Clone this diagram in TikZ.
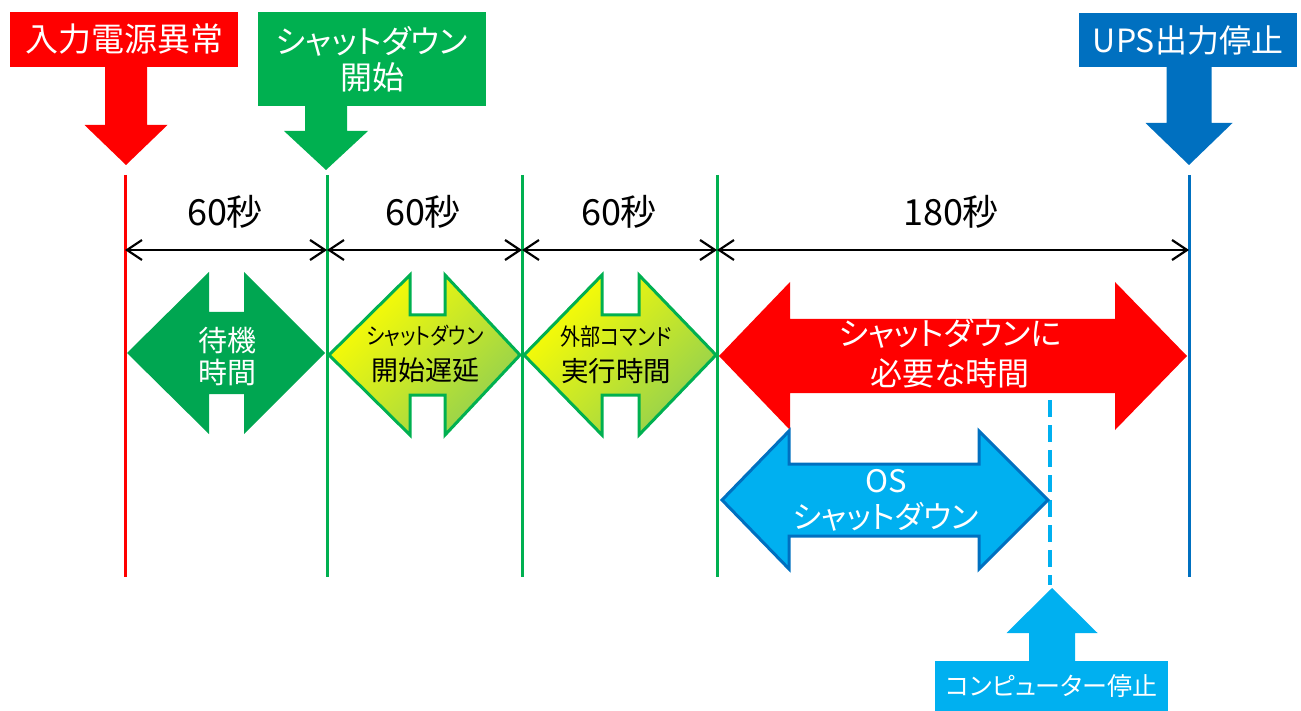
\documentclass[tikz,border=0pt]{standalone}
\usepackage{fontspec}
\setmainfont{Noto Sans CJK JP}[RawFeature=+palt]
\usepackage{graphicx}
\usetikzlibrary{arrows.meta, positioning, calc}
\definecolor{cRed}{RGB}{255,0,0}
\definecolor{cGreen}{RGB}{0,176,80}
\definecolor{cWait}{RGB}{0,166,81}
\definecolor{cBlue}{RGB}{0,112,192}
\definecolor{cSky}{RGB}{0,176,240}
\definecolor{cYellow}{RGB}{255,255,0}
\definecolor{cLime}{RGB}{146,208,80}
\tikzset{
	evbox/.style ={rectangle, inner sep=0pt, text=white, align=center, font=\fontsize{32}{36}\selectfont},
	tline/.style ={line width=3pt},
	dim/.style   ={{Straight Barb[length=15pt,width=20pt]}-{Straight Barb[length=15pt,width=20pt]}, line width=2.2pt},
	secs/.style  ={inner sep=0pt, font=\fontsize{36}{40}\selectfont},
	inlbl/.style ={inner sep=0pt, align=center},
	yelarrow/.style={draw=cGreen, line width=3pt, line join=miter, top color=cYellow, bottom color=cLime, shading angle=45},
}
% event arrow: colour, x centre, y top, y head base, y tip, half shaft, half head
\newcommand{\evarrow}[7]{\fill[#1] (#2-#6,#3) -- (#2-#6,#4) -- (#2-#7,#4) -- (#2,#5) -- (#2+#7,#4) -- (#2+#6,#4) -- (#2+#6,#3) -- cycle;}
% double arrow: style, x tip L, x base L, x base R, x tip R, y centre, half head, half shaft
\newcommand{\dblarrow}[8][]{\path[#1] (#2,#6) -- (#3,#6-#7) -- (#3,#6-#8) -- (#4,#6-#8) -- (#4,#6-#7) -- (#5,#6) -- (#4,#6+#7) -- (#4,#6+#8) -- (#3,#6+#8) -- (#3,#6+#7) -- cycle;}

\begin{document}
\begin{tikzpicture}[x=1pt, y=-1pt]
	\useasboundingbox (0,0) rectangle (1301,711);
	% events on top
	\node[evbox, fill=cRed, minimum width=228pt, minimum height=55pt, font=\fontsize{33}{36}\selectfont] (inp) at (124,39.5) {入力電源異常};
	\node[evbox, fill=cGreen, minimum width=228pt, minimum height=94pt] (sds) at (372,59) {シャットダウン\\開始};
	\node[evbox, fill=cBlue, minimum width=218pt, minimum height=54pt] (ups) at (1188,40) {UPS出力停止};
	\evarrow{cRed}{126}{66}{125}{165}{21}{41.5}
	\evarrow{cGreen}{326}{105}{131}{170}{21}{42}
	\evarrow{cBlue}{1189}{66}{123}{165}{22.5}{43.5}
	% time lines
	\foreach \n/\x/\c in {0/125/cRed, 1/327/cGreen, 2/522/cGreen, 3/717/cGreen, 4/1189/cBlue} {
		\coordinate (top\n) at (\x,175);
		\coordinate (bot\n) at (\x,577);
		\coordinate (d\n) at (\x,250);
		\draw[tline, \c] (top\n) -- (bot\n);
	}
	\draw[dim] (d0) -- (d1);
	\draw[dim] (d1) -- (d2);
	\draw[dim] (d2) -- (d3);
	\draw[dim] (d3) -- (d4);
	\node[secs] (s1) at (225,212) {60秒};
	\node[secs] (s2) at (423,212) {60秒};
	\node[secs] (s3) at (619,212) {60秒};
	\node[secs] (s4) at (951,212) {180秒};
	% phases
	\dblarrow[fill=cWait]{127}{209}{244}{325}{353}{81}{41}
	\dblarrow[yelarrow]{329}{410}{445}{520}{355}{80}{40}
	\dblarrow[yelarrow]{524}{602}{639}{716}{355}{80}{40}
	\dblarrow[fill=cRed]{719}{790}{1115}{1187}{356}{74}{37}
	\draw[cSky, line width=3.5pt, dash pattern=on 17pt off 8pt] (1050,400) -- (1050,585);
	\dblarrow[fill=cSky, draw=cBlue, line width=3pt]{722}{789}{979}{1048}{500}{69}{36}
	\node[inlbl, text=white, font=\fontsize{29}{32}\selectfont] (wait) at (227,356) {待機\\時間};
	\node[inlbl, font=\fontsize{27}{36}\selectfont] (delay) at (425,354) {\scalebox{0.72}[0.85]{シャットダウン}\\開始遅延};
	\node[inlbl, font=\fontsize{27.5}{36}\selectfont] (ext) at (616,355) {\scalebox{0.73}[0.85]{外部コマンド}\\実行時間};
	\node[inlbl, text=white, font=\fontsize{32}{40}\selectfont] (need) at (950,353) {シャットダウンに\\必要な時間};
	\node[inlbl, text=white, font=\fontsize{31}{36}\selectfont] (os) at (886,500) {OS\\シャットダウン};
	% computer stop
	\evarrow{cSky}{1052}{662}{633}{588}{23}{45.5}
	\node[evbox, fill=cSky, minimum width=233pt, minimum height=51pt, font=\fontsize{25}{30}\selectfont] (pc) at (1051.5,686.5) {コンピューター停止};
\end{tikzpicture}
\end{document}
